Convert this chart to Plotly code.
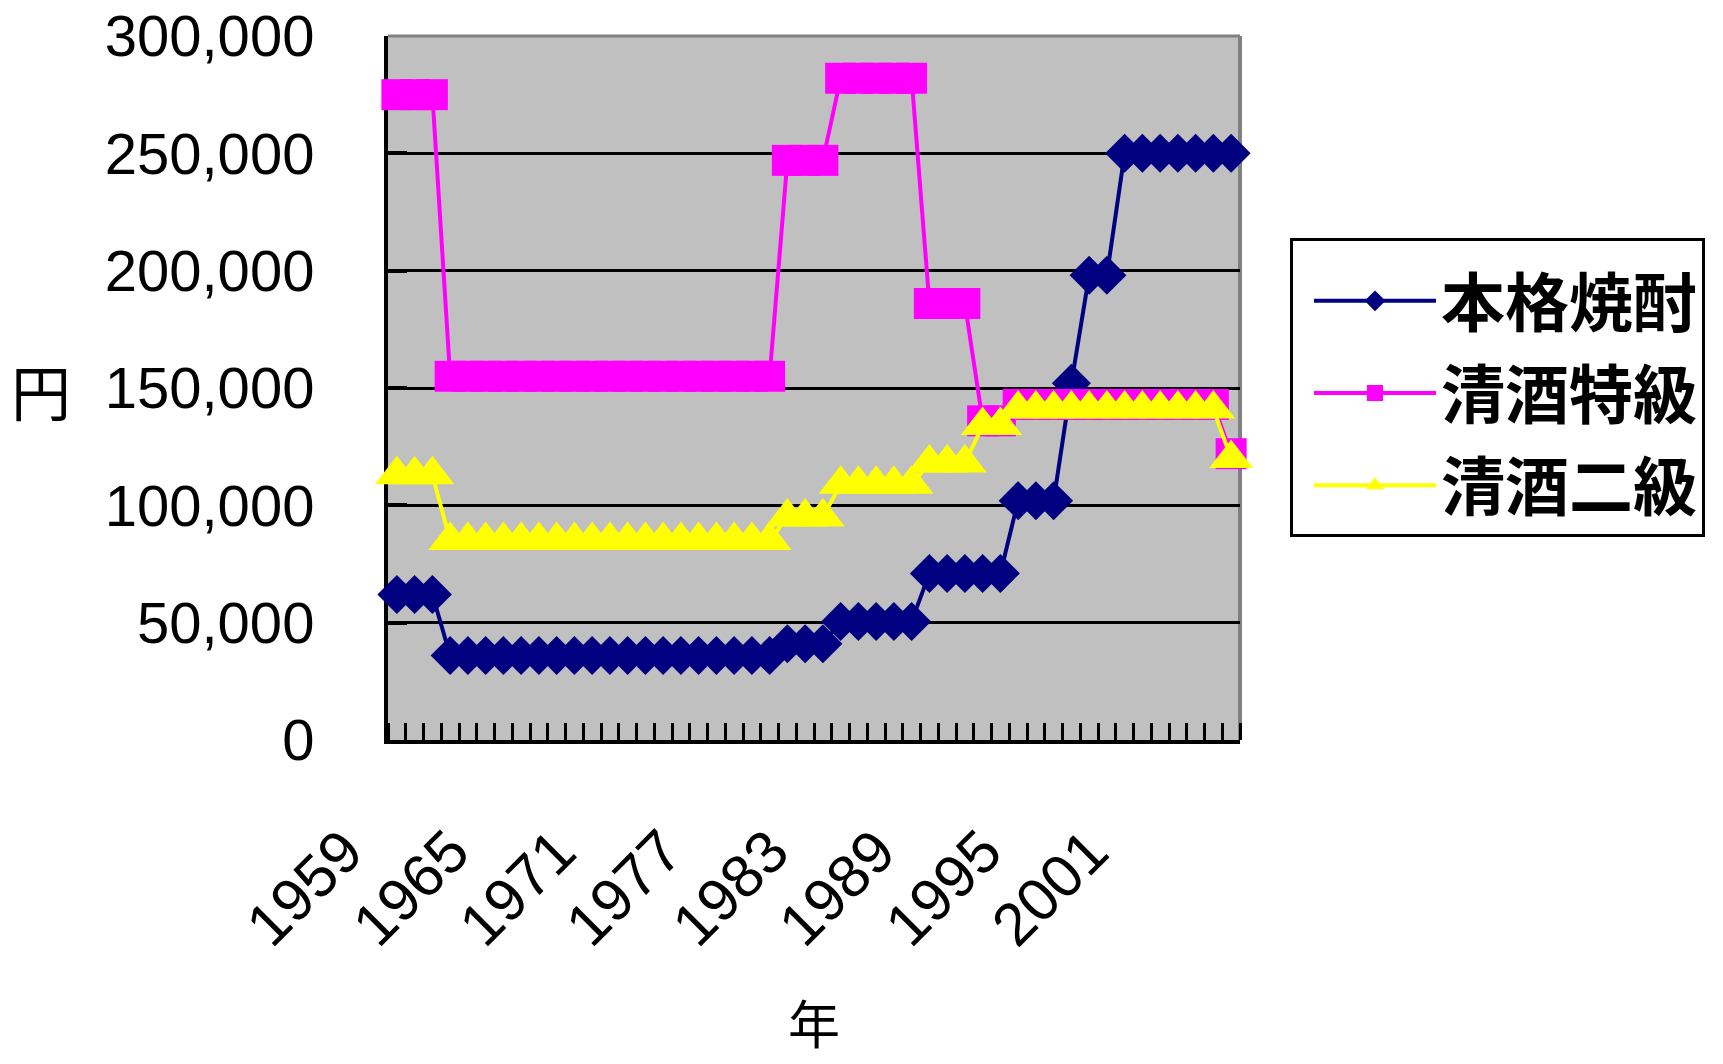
import plotly.graph_objects as go

years = list(range(1959, 2007))

shochu = ([62000] * 3 + [36000] * 19 + [41000] * 3 + [50500] * 5 + [71000] * 5
          + [102000] * 3 + [152000] + [198000] * 2 + [250000] * 7)
sake_tokkyu = ([275000] * 3 + [155000] * 19 + [247000] * 3 + [282000] * 5
               + [186000] * 3 + [136000] * 2 + [143000] * 12 + [122000])
sake_nikyu = ([113000] * 3 + [85000] * 19 + [95000] * 3 + [109000] * 5
              + [118000] * 3 + [134000] * 2 + [141000] * 12 + [120000])

series_names = ["本格焼酎", "清酒特級", "清酒二級"]
tick_years = [1959, 1965, 1971, 1977, 1983, 1989, 1995, 2001]
tick_labels = [str(y) for y in tick_years]
y_ticks = [0, 50000, 100000, 150000, 200000, 250000, 300000]

NUM_FONT = "Liberation Sans, Arial, sans-serif"
JP_FONT = "Noto Sans CJK JP, sans-serif"

W, H = 1723, 1064
PL, PT, PW, PH = 388, 36, 852, 704

fig = go.Figure()
styles = [
    dict(color="#000080", symbol="diamond", size=30),
    dict(color="#FF00FF", symbol="square", size=31),
    dict(color="#FFFF00", symbol="triangle-up", size=38),
]
for name, vals, st, g in zip(series_names, [shochu, sake_tokkyu, sake_nikyu], styles, ["a", "b", "c"]):
    fig.add_trace(go.Scatter(
        x=years, y=vals, name=name, mode="lines+markers",
        legendgroup=g, cliponaxis=False,
        line=dict(color=st["color"], width=4),
        marker=dict(color=st["color"], symbol=st["symbol"], size=st["size"], line=dict(width=0)),
    ))

def px_x(p):
    return (p - PL) / PW

def px_y(p):
    return (PT + PH - p) / PH

fig.update_layout(
    width=W, height=H, autosize=False,
    margin=dict(l=PL, r=W - PL - PW, t=PT, b=H - PT - PH, autoexpand=False),
    paper_bgcolor="white", plot_bgcolor="#C0C0C0",
    showlegend=True,
    legend=dict(
        x=px_x(1290), y=px_y(238), xanchor="left", yanchor="top",
        bgcolor="white", bordercolor="black", borderwidth=3,
        font=dict(family=JP_FONT, size=64, color="black", weight="bold"),
        title=dict(text=" ", font=dict(size=9)),
        traceorder="grouped", tracegroupgap=6, itemwidth=122, indentation=16,
    ),
    xaxis=dict(
        range=[1958.5, 2006.5], tickmode="array", tickvals=tick_years, ticktext=tick_labels,
        tickangle=-45, ticks="", showgrid=False, zeroline=False,
        showline=True, linecolor="black", linewidth=4, layer="below traces",
        tickfont=dict(family=NUM_FONT, size=60, color="black"),
        ticklabelstandoff=48, ticklabelshift=-52, ticklabeloverflow="allow",
        minor=dict(tick0=1958.5, dtick=1, ticks="inside", ticklen=17, tickwidth=3,
                   tickcolor="black", showgrid=False),
    ),
    yaxis=dict(
        range=[0, 300000], tickmode="array", tickvals=y_ticks, tickformat=",",
        ticks="inside", ticklen=19, tickwidth=4, tickcolor="black",
        showgrid=True, gridcolor="black", gridwidth=3, zeroline=False,
        showline=True, linecolor="black", linewidth=4, layer="below traces",
        tickfont=dict(family=NUM_FONT, size=58, color="black"),
        ticklabelstandoff=58, ticklabeloverflow="allow",
    ),
    shapes=[
        dict(type="line", xref="paper", yref="paper", x0=0, x1=1, y0=1, y1=1,
             line=dict(color="#808080", width=3), layer="below"),
        dict(type="line", xref="paper", yref="paper", x0=1, x1=1, y0=0, y1=1,
             line=dict(color="#808080", width=4), layer="below"),
    ],
    annotations=[
        dict(text="円", xref="paper", yref="paper", x=px_x(41), y=px_y(389),
             showarrow=False, font=dict(family=JP_FONT, size=60, color="black"),
             xanchor="center", yanchor="middle"),
        dict(text="年", xref="paper", yref="paper", x=0.5, y=px_y(1021),
             showarrow=False, font=dict(family=JP_FONT, size=52, color="black"),
             xanchor="center", yanchor="middle"),
    ],
)

fig.write_html("out.html", config={"displayModeBar": False},
               post_script="document.body.style.margin='0';")
